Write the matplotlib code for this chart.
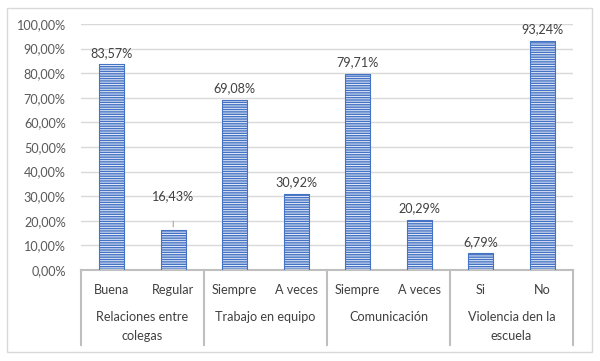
import matplotlib
matplotlib.use("Agg")
import matplotlib.pyplot as plt
import matplotlib.transforms as mtrans
from matplotlib.lines import Line2D
from matplotlib.patches import Rectangle

categories = ["Buena", "Regular", "Siempre", "A veces", "Siempre", "A veces", "Si", "No"]
groups = ["Relaciones entre\ncolegas", "Trabajo en equipo", "Comunicación", "Violencia den la\nescuela"]
values = [83.57, 16.43, 69.08, 30.92, 79.71, 20.29, 6.79, 93.24]
yticks = [0, 10, 20, 30, 40, 50, 60, 70, 80, 90, 100]

W, H = 600, 361
plt.rcParams['font.family'] = ['Lato', 'DejaVu Sans']
plt.rcParams['hatch.color'] = '#E8EEF8'
plt.rcParams['hatch.linewidth'] = 0.7

fig = plt.figure(figsize=(6, 3.61), dpi=100)
fig.patches.append(Rectangle((7 / W, 1 - 352 / H), 585 / W, 344 / H, transform=fig.transFigure,
                             fill=False, edgecolor='#D9D9D9', linewidth=1))
ax = fig.add_axes([81 / W, 1 - 270 / H, 492 / W, 246 / H])

x = list(range(len(categories)))
blue = '#4472C4'
fs = 9.1
ax.bar(x, values, width=0.41, color=blue, edgecolor=blue, linewidth=0.5, zorder=2)
ax.bar(x, values, width=0.41, color='none', edgecolor='#E8EEF8', hatch='-------', linewidth=0, zorder=3)
ax.bar(x, values, width=0.41, color='none', edgecolor=blue, linewidth=0.8, zorder=4)

ax.set_xlim(-0.5, len(categories) - 0.5)
ax.set_ylim(0, 100)
ax.set_yticks(yticks)
ax.set_yticklabels([f"{v:.2f}".replace('.', ',') + "%" for v in yticks], color='#595959', fontsize=fs)
ax.tick_params(axis='y', length=0, pad=11)
ax.tick_params(axis='x', length=0, labelbottom=False)
ax.grid(axis='y', color='#D9D9D9', linewidth=1, zorder=0)
for s in ['top', 'right', 'left']:
    ax.spines[s].set_visible(False)
ax.spines['bottom'].set_color('#BFBFBF')
ax.spines['bottom'].set_linewidth(1.5)

for xi, v in zip(x, values):
    lab = f"{v:.2f}".replace('.', ',') + "%"
    if v < 18 and v > 10:
        ax.annotate(lab, (xi, v), xytext=(0, 20), textcoords='offset points', ha='center',
                    va='bottom', fontsize=fs, color='#404040')
        ax.annotate('', (xi, v), xytext=(0, 8), textcoords='offset points',
                    arrowprops=dict(arrowstyle='-', color='#A6A6A6', lw=0.8))
    else:
        ax.annotate(lab, (xi, v), xytext=(0, 4), textcoords='offset points', ha='center',
                    va='bottom', fontsize=fs, color='#404040')

bt = mtrans.blended_transform_factory(ax.transData, fig.transFigure)
for xi, c in zip(x, categories):
    ax.text(xi, 1 - 290 / H, c, transform=bt, ha='center', va='center', fontsize=fs, color='#404040')
for gi, g in enumerate(groups):
    ax.text(2 * gi + 0.5, 1 - 311 / H, g, transform=bt, ha='center', va='top', fontsize=fs,
            color='#404040', linespacing=1.65)
for sx in [-0.5, 1.5, 3.5, 5.5, 7.5]:
    ax.add_line(Line2D([sx, sx], [1 - 270 / H, 1 - 345 / H], transform=bt, color='#BFBFBF',
                       linewidth=1.5, clip_on=False))

fig.savefig("out.png", dpi=100)
